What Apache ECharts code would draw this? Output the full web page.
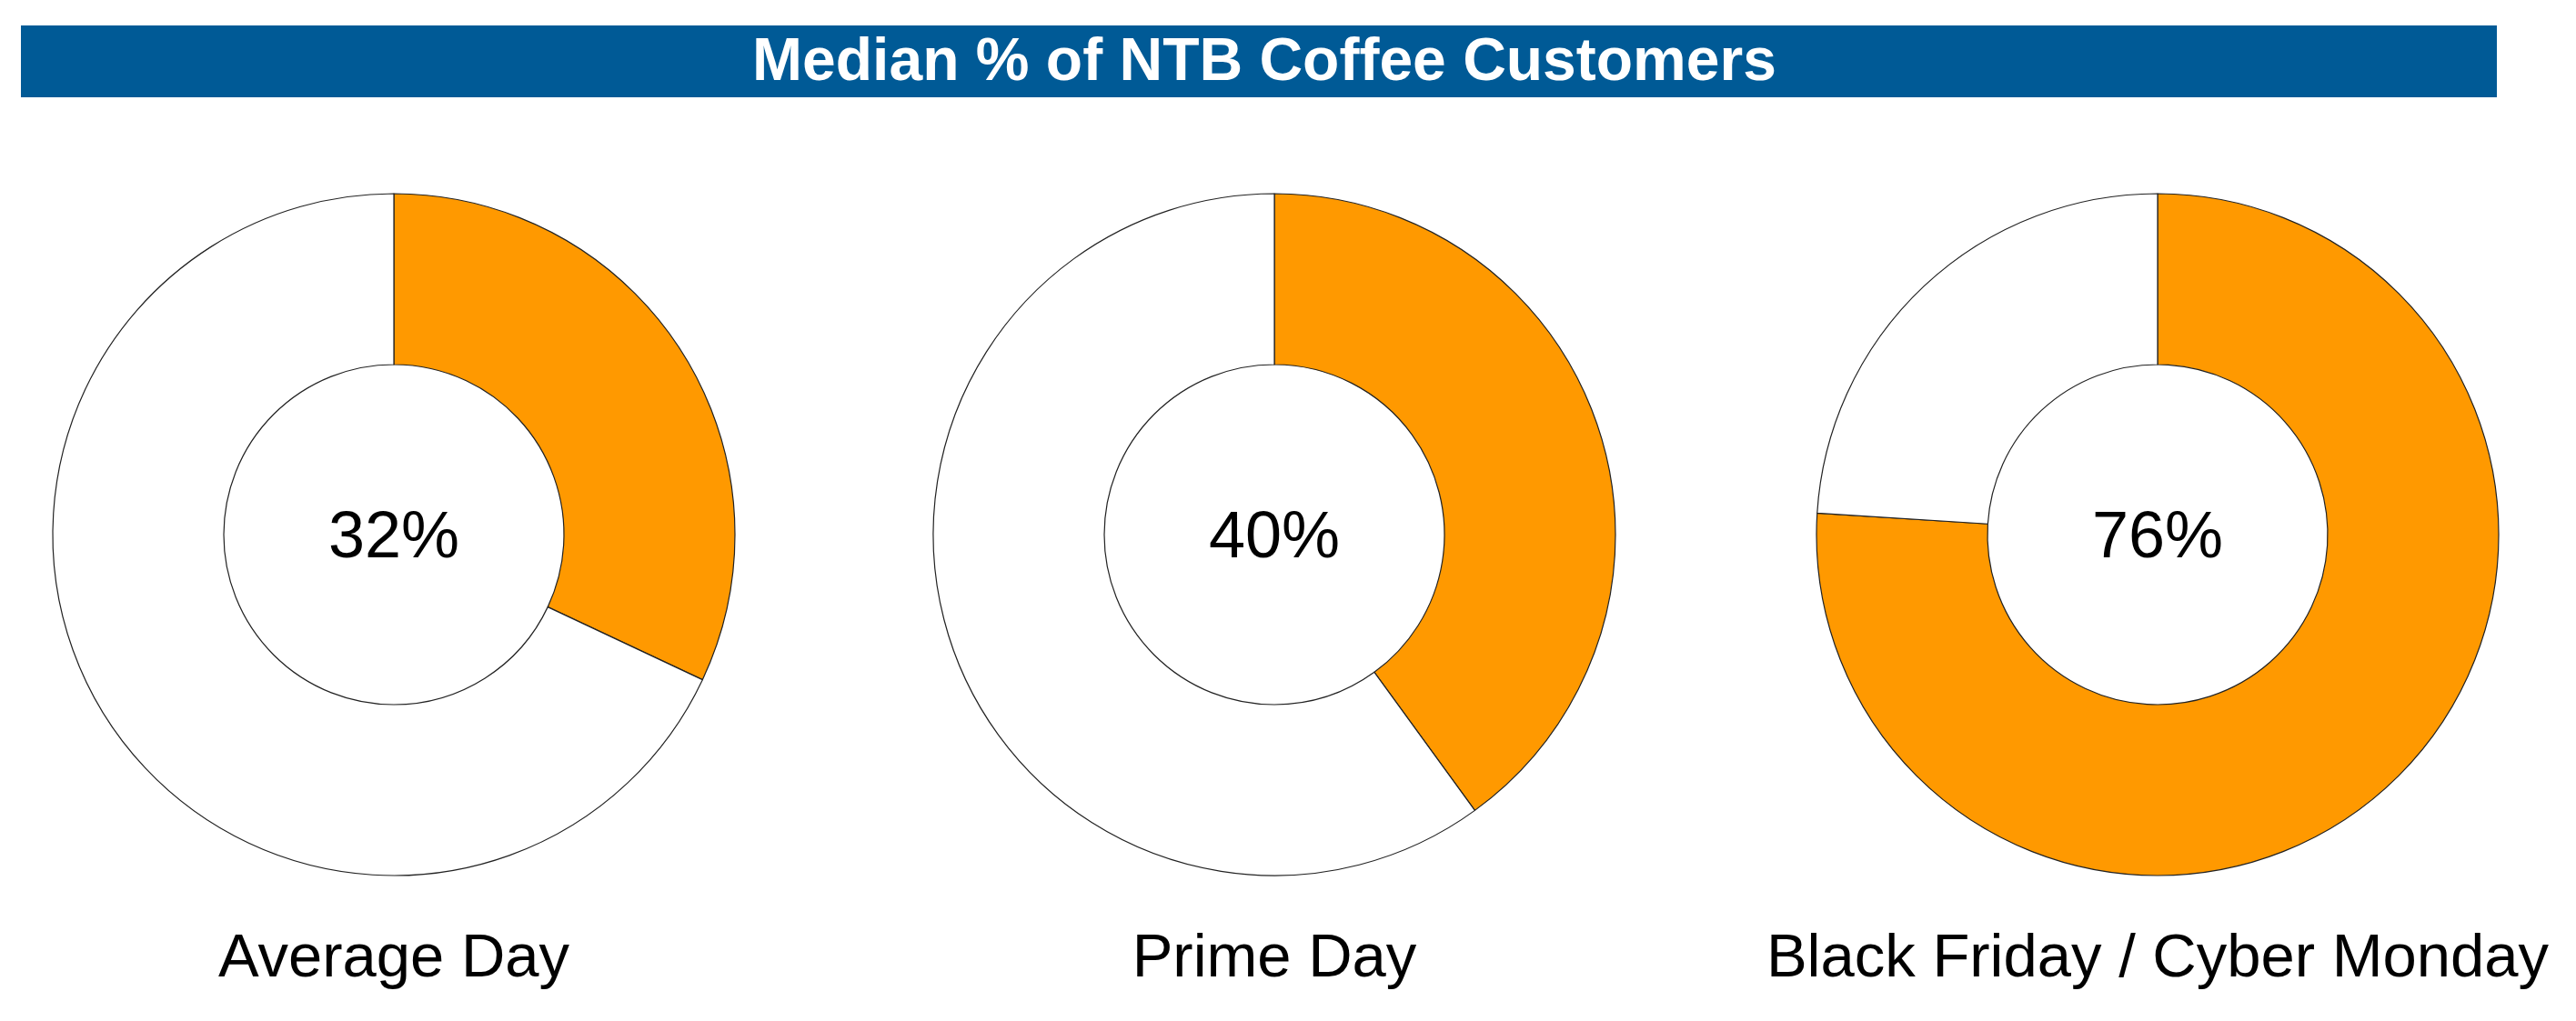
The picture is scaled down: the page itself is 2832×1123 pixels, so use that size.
<!DOCTYPE html>
<html>
<head>
<meta charset="utf-8">
<script src="https://cdn.jsdelivr.net/npm/echarts@6/dist/echarts.min.js"></script>
<style>
html,body{margin:0;padding:0;background:#fff;}
#chart{width:2832px;height:1123px;}
</style>
</head>
<body>
<div id="chart"></div>
<script>
const chartTitle = "Median % of NTB Coffee Customers";
const categories = ["Average Day", "Prime Day", "Black Friday / Cyber Monday"];
const ntbValues = [32, 40, 76];
const restValues = [68, 60, 24];

const centersX = [433, 1401, 2372];
const centerY = 588;
const FONT = '"Liberation Sans", Arial, sans-serif';

const chart = echarts.init(document.getElementById('chart'), null, {renderer: 'canvas'});

const series = categories.map((cat, i) => ({
  type: 'pie',
  center: [centersX[i], centerY],
  radius: [187, 375],
  startAngle: 90,
  clockwise: true,
  silent: true,
  animation: false,
  avoidLabelOverlap: false,
  itemStyle: {borderColor: '#222', borderWidth: 1.2},
  emphasis: {disabled: true},
  labelLine: {show: false},
  data: [
    {value: ntbValues[i], name: cat, itemStyle: {color: '#FF9900'},
     label: {show: true, position: 'center', formatter: '{c}%', color: '#000',
             fontSize: 72, fontFamily: FONT, offset: [0, 5]}},
    {value: restValues[i], name: 'Other', itemStyle: {color: '#FFFFFF'}, label: {show: false}}
  ]
}));

const graphics = [
  {type: 'rect', shape: {x: 23, y: 28, width: 2722, height: 79}, style: {fill: '#005A96'}, silent: true},
  {type: 'text', x: 1390, y: 70, style: {text: chartTitle, fill: '#FFFFFF', font: 'bold 66px ' + FONT, textAlign: 'center', textVerticalAlign: 'middle'}, silent: true}
];
categories.forEach((cat, i) => {
  graphics.push({type: 'text', x: centersX[i], y: 1056,
    style: {text: cat, fill: '#000', font: '67px ' + FONT, textAlign: 'center', textVerticalAlign: 'middle'}, silent: true});
});

chart.setOption({
  backgroundColor: '#FFFFFF',
  animation: false,
  series: series,
  graphic: graphics
});
</script>
</body>
</html>
